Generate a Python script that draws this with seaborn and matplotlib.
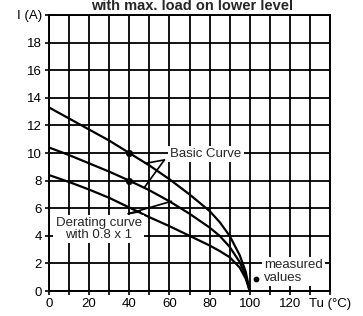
import numpy as np
import pandas as pd
import matplotlib
matplotlib.use("Agg")
import matplotlib.pyplot as plt
import seaborn as sns

# Werte
temp = [0, 10, 20, 30, 40, 50, 60, 70, 80, 85, 90, 95, 98, 100]
basic_top = [13.3, 12.5, 11.7, 10.9, 10.0, 9.1, 8.1, 7.0, 5.8, 5.0, 4.0, 2.6, 1.4, 0.0]
basic_mid = [10.4, 9.85, 9.25, 8.65, 8.0, 7.3, 6.5, 5.6, 4.6, 4.0, 3.2, 2.1, 1.1, 0.0]
derating = [8.4, 7.9, 7.35, 6.75, 6.05, 5.35, 4.7, 4.0, 3.3, 2.9, 2.45, 1.7, 0.9, 0.0]

measured_t = [40, 40]
measured_i = [10.0, 8.0]

x_ticks = [0, 10, 20, 30, 40, 50, 60, 70, 80, 90, 100, 110, 120, 130, 140]
x_labels = ["0", "", "20", "", "40", "", "60", "", "80", "", "100", "", "120", "", "Tu (°C)"]
y_ticks = [0, 2, 4, 6, 8, 10, 12, 14, 16, 18, 20]
y_labels = ["0", "2", "4", "6", "8", "10", "12", "14", "16", "18", "I (A)"]


def make_frame():
    rows = []
    for name, vals in [("top", basic_top), ("mid", basic_mid), ("der", derating)]:
        for t, i in zip(temp, vals):
            rows.append({"Tu": t, "I": i, "curve": name})
    return pd.DataFrame(rows)


sns.set_theme(style="white")
plt.rcParams["font.family"] = ["Liberation Sans", "DejaVu Sans"]

fig = plt.figure(figsize=(3.63, 3.16), dpi=100)
ax = fig.add_axes([49 / 363, 25 / 316, 281 / 363, 276 / 316])

df = make_frame()
sns.lineplot(data=df, x="Tu", y="I", units="curve", estimator=None,
             color="black", lw=1.6, ax=ax, zorder=3)
sns.scatterplot(x=measured_t, y=measured_i, color="black", s=22,
                edgecolor="black", ax=ax, zorder=4)

# Gitter
ax.set_xlim(0, 140)
ax.set_ylim(0, 20)
ax.set_xticks(x_ticks)
ax.set_xticklabels(x_labels)
ax.set_yticks(y_ticks)
ax.set_yticklabels(y_labels)
ax.grid(True, color="black", lw=1.3)
ax.tick_params(axis="both", labelsize=9.5, colors="black", length=3,
               width=1.2, pad=2, direction="out")
ax.tick_params(axis="x", bottom=True)
ax.tick_params(axis="y", left=True)
for s in ax.spines.values():
    s.set_color("black")
    s.set_linewidth(1.4)
ax.set_xlabel("")
ax.set_ylabel("")

# Beschriftungen
box = dict(facecolor="white", edgecolor="none", pad=1.5)
ax.text(60.5, 9.9, "Basic Curve", fontsize=9.5, va="center", ha="left",
        bbox=box, zorder=5)
ax.plot([57.5, 48], [9.5, 9.25], color="black", lw=1.2, zorder=3)
ax.plot([57.5, 47.5], [9.5, 7.5], color="black", lw=1.2, zorder=3)

ax.text(24.7, 4.5, "Derating curve\nwith 0.8 x 1", fontsize=9.5, va="center",
        ha="center", linespacing=0.95, bbox=box, zorder=5)
ax.plot([39.5, 61], [5.6, 6.5], color="black", lw=1.2, zorder=3)
ax.plot([39.5, 45.5], [5.6, 5.75], color="black", lw=1.2, zorder=3)

ax.text(107, 1.4, "measured\nvalues", fontsize=9.5, va="center", ha="left",
        linespacing=1.1, bbox=box, zorder=5)
ax.scatter([103], [0.85], color="black", s=10, zorder=6)

fig.text(192 / 363, 1 - 10 / 316, "with max. load on lower level",
         fontsize=10.5, fontweight="bold", ha="center", va="baseline")

fig.savefig("out.png", dpi=100)
